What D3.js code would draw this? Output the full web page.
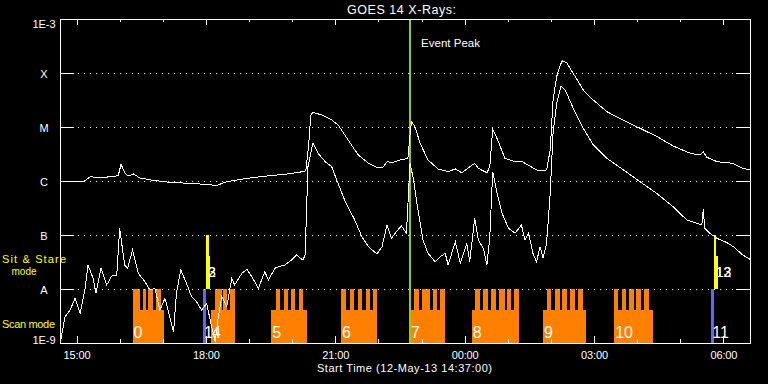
<!DOCTYPE html>
<html lang="en">
<head>
<meta charset="UTF-8">
<title>GOES 14 X-Rays</title>
<script src="https://d3js.org/d3.v7.min.js"></script>
<style>
    html, body { margin: 0; padding: 0; background: #000; }
    svg { display: block; color: white; }
    text { font-family: 'Liberation Sans', Arial, sans-serif; fill: white; }
    .axis text { font-size: 11px; }
    .mode { fill: #ffff00; font-size: 11px; }
</style>
</head>
<body>
<script>
    const width = 768;
    const height = 384;

    // time axis: minutes after 12-May-13 14:37:00 UT
    const spanMinutes = 960;
    const hourTicks = [23, 83, 143, 203, 263, 323, 383, 443, 503, 563, 623, 683, 743, 803, 863, 923];
    const hourLabels = ['15:00', '', '', '18:00', '', '', '21:00', '', '', '00:00', '', '', '03:00', '', '', '06:00'];

    const fluxTicks = [1e-9, 1e-8, 1e-7, 1e-6, 1e-5, 1e-4, 1e-3];
    const fluxLabels = ['1E-9', 'A', 'B', 'C', 'M', 'X', '1E-3'];

    // GOES 1-8 A channel [minute, W/m2]
    const longChannel = [
        [0, 9.6e-7], [32, 9.6e-7], [42, 1.2e-6], [56, 1.15e-6], [70, 1.2e-6], [81, 1.25e-6],
        [85, 2.04e-6], [90, 1.41e-6], [95, 1.24e-6], [102, 1.35e-6], [111, 1.14e-6], [129, 1.03e-6],
        [157, 9.3e-7], [181, 9.1e-7], [218, 8.3e-7], [232, 9.7e-7], [260, 1.12e-6], [288, 1.24e-6],
        [316, 1.35e-6], [338, 1.49e-6], [342, 1.56e-6], [346, 4.64e-6], [349, 1.67e-5], [352, 1.87e-5],
        [364, 1.67e-5], [378, 1.35e-5], [387, 1.09e-5], [401, 5.74e-6], [415, 3.03e-6], [429, 2.15e-6],
        [442, 1.76e-6], [449, 1.76e-6], [455, 2.28e-6], [462, 2.18e-6], [476, 2.52e-6], [484, 2.59e-6],
        [487, 7.11e-6], [489, 1.25e-5], [494, 1.01e-5], [501, 4.99e-6], [512, 2.45e-6], [526, 1.67e-6],
        [540, 1.49e-6], [550, 1.67e-6], [559, 1.42e-6], [577, 2.13e-6], [582, 1.72e-6], [594, 1.42e-6],
        [598, 1.84e-6], [602, 9.07e-6], [609, 5.74e-6], [619, 2.63e-6], [633, 2.28e-6], [643, 2.28e-6],
        [651, 1.98e-6], [665, 1.55e-6], [677, 1.6e-6], [682, 3.75e-6], [686, 3.16e-5], [691, 8.54e-5],
        [696, 1.41e-4], [699, 1.69e-4], [705, 1.55e-4], [714, 9.87e-5], [728, 4.84e-5], [742, 3.16e-5],
        [761, 1.92e-5], [783, 1.35e-5], [807, 9.46e-6], [831, 6.61e-6], [853, 4.45e-6], [877, 3.26e-6],
        [890, 3.03e-6], [895, 3.49e-6], [900, 2.75e-6], [914, 2.28e-6], [936, 2.13e-6], [950, 1.72e-6],
        [960, 1.6e-6]
    ];

    // GOES 0.5-4 A channel [minute, W/m2]
    const shortChannel = [
        [1, 1.09e-9], [2, 1.31e-9], [7, 3.07e-9], [14, 4.08e-9], [21, 6.73e-9], [28, 3.55e-9],
        [35, 1.03e-8], [39, 2.78e-8], [46, 1.58e-8], [50, 8.3e-9], [57, 2.42e-8], [65, 1.19e-8],
        [72, 1.74e-8], [79, 1.82e-8], [83, 1.33e-7], [90, 2.78e-8], [94, 2.42e-8], [101, 5.27e-8],
        [109, 1.95e-8], [118, 1.37e-8], [125, 9.6e-9], [132, 1.03e-8], [139, 4.08e-9], [146, 6.73e-9],
        [158, 1.62e-9], [162, 8.3e-9], [168, 2.25e-8], [176, 1.28e-8], [183, 7.2e-9], [190, 5.82e-9],
        [197, 4.08e-9], [204, 5.44e-9], [211, 2.0e-9], [216, 1.06e-9], [220, 2.87e-9], [225, 7.2e-9],
        [232, 4.7e-9], [239, 1.58e-8], [243, 1.19e-8], [253, 1.95e-8], [260, 2.32e-8], [267, 1.69e-8],
        [276, 1.03e-8], [285, 2.09e-8], [290, 1.47e-8], [299, 2.42e-8], [304, 2.59e-8], [313, 2.78e-8],
        [322, 3.44e-8], [329, 4.26e-8], [338, 3.44e-8], [341, 4.26e-8], [345, 1.84e-6], [352, 5.12e-6],
        [359, 3.26e-6], [369, 2.28e-6], [378, 1.84e-6], [385, 1.04e-6], [396, 4.45e-7], [410, 1.9e-7],
        [420, 9.3e-8], [429, 6.07e-8], [441, 4.45e-8], [448, 6.07e-8], [455, 1.53e-7], [461, 8.69e-8],
        [468, 1.15e-7], [475, 1.47e-7], [482, 1.08e-7], [487, 2.15e-6], [492, 1.04e-6], [498, 2.9e-7],
        [505, 8.08e-8], [512, 4.58e-8], [522, 3.2e-8], [529, 3.96e-8], [536, 4.58e-8], [540, 2.78e-8],
        [550, 7.51e-8], [557, 2.99e-8], [566, 7.02e-8], [570, 3.2e-8], [577, 2.04e-7], [582, 8.08e-8],
        [589, 5.67e-8], [594, 2.78e-8], [598, 9.3e-8], [602, 1.49e-6], [608, 5.92e-7], [615, 2.52e-7],
        [624, 1.33e-7], [633, 1.08e-7], [642, 1.53e-7], [647, 8.08e-8], [652, 1.08e-7], [658, 4.58e-8],
        [663, 3.2e-8], [668, 6.07e-8], [672, 3.7e-8], [677, 7.02e-8], [682, 5.92e-7], [686, 7.64e-6],
        [691, 2.75e-5], [697, 5.74e-5], [703, 4.84e-5], [714, 2.22e-5], [728, 9.46e-6], [742, 4.64e-6],
        [761, 2.63e-6], [784, 1.6e-6], [807, 9.7e-7], [830, 5.92e-7], [853, 3.34e-7], [872, 1.9e-7],
        [886, 1.65e-7], [893, 1.53e-7], [895, 2.99e-7], [897, 1.33e-7], [904, 1.08e-7], [914, 8.69e-8],
        [928, 7.2e-8], [937, 6.07e-8], [950, 4.26e-8], [960, 3.55e-8]
    ];

    const eventPeak = 487;

    // raster scans and their exposure steps, in minutes
    const scanBlocks = [
        {id: '0', start: 101, end: 144, steps: [[101, 111], [115, 120], [123, 130], [134, 140]]},
        {id: '4', start: 210, end: 243, steps: [[216, 225], [227, 233], [236, 243]]},
        {id: '5', start: 294, end: 343, steps: [[300, 306], [311, 317], [321, 327], [332, 338]]},
        {id: '6', start: 391, end: 441, steps: [[391, 398], [404, 409], [414, 420], [426, 431], [435, 441]]},
        {id: '7', start: 487, end: 536, steps: [[493, 500], [504, 515], [519, 525], [529, 536]]},
        {id: '8', start: 573, end: 638, steps: [[578, 585], [589, 596], [599, 607], [611, 619], [622, 628], [631, 638]]},
        {id: '9', start: 672, end: 732, steps: [[677, 683], [689, 695], [699, 705], [710, 717], [721, 727]]},
        {id: '10', start: 771, end: 825, steps: [[771, 777], [782, 788], [792, 798], [802, 808], [813, 820]]}
    ];
    const scanSingles = [
        {id: '1', start: 199, end: 203},
        {id: '11', start: 906, end: 909.5}
    ];
    const stareEvents = [
        {id: '3', start: 203, end: 208.5, top: 4.1e-8},
        {id: '2', start: 203, end: 207, top: 1e-7},
        {id: '13', start: 909.5, end: 915, top: 4.1e-8},
        {id: '12', start: 909.5, end: 913, top: 1e-7}
    ];

    const svg = d3.select('body').append('svg').attr('width', width).attr('height', height);

    const x = d3.scaleLinear().domain([0, spanMinutes]).range([60, 750]);
    const y = d3.scaleLog().domain([1e-9, 1e-3]).range([343, 19]);

    const scanTop = 1e-8, scanBody = 4.1e-9, scanBottom = 1e-9;

    svg.append('clipPath').attr('id', 'plot')
        .append('rect').attr('x', 60).attr('y', 19).attr('width', 691).attr('height', 325);

    // scan blocks
    const scans = svg.append('g').attr('clip-path', 'url(#plot)').attr('shape-rendering', 'crispEdges');
    scans.selectAll('rect.body').data(scanBlocks).join('rect').attr('class', 'body')
        .attr('x', d => x(d.start)).attr('width', d => x(d.end) - x(d.start))
        .attr('y', y(scanBody)).attr('height', y(scanBottom) - y(scanBody) + 1)
        .attr('fill', '#ff8000');
    scans.selectAll('rect.step').data(scanBlocks.flatMap(b => b.steps)).join('rect').attr('class', 'step')
        .attr('x', d => x(d[0])).attr('width', d => x(d[1]) - x(d[0]))
        .attr('y', y(scanTop)).attr('height', y(scanBody) - y(scanTop) + 1)
        .attr('fill', '#ff8000');
    scans.selectAll('rect.single').data(scanSingles).join('rect').attr('class', 'single')
        .attr('x', d => x(d.start)).attr('width', d => x(d.end) - x(d.start))
        .attr('y', y(scanTop)).attr('height', y(scanBottom) - y(scanTop))
        .attr('fill', '#6464ff');
    scans.selectAll('rect.stare').data(stareEvents).join('rect').attr('class', 'stare')
        .attr('x', d => x(d.start)).attr('width', d => x(d.end) - x(d.start))
        .attr('y', d => y(d.top)).attr('height', d => y(scanTop) - y(d.top))
        .attr('fill', '#ffff00');

    // event peak
    svg.append('line')
        .attr('x1', x(eventPeak)).attr('x2', x(eventPeak))
        .attr('y1', y(1e-3)).attr('y2', y(1e-9) + 1)
        .attr('stroke', '#99cc00').attr('stroke-width', 2)
        .attr('shape-rendering', 'crispEdges');

    // grid
    svg.append('g').selectAll('line').data(fluxTicks.slice(1, -1)).join('line')
        .attr('x1', 78).attr('x2', 736)
        .attr('y1', d => y(d) + 0.5).attr('y2', d => y(d) + 0.5)
        .attr('stroke', 'white').attr('stroke-dasharray', '1 5')
        .attr('shape-rendering', 'crispEdges');

    // flux curves
    const line = d3.line().x(d => x(d[0])).y(d => y(d[1]));
    svg.append('g').attr('clip-path', 'url(#plot)')
        .selectAll('path').data([longChannel, shortChannel]).join('path')
        .attr('d', line)
        .attr('fill', 'none').attr('stroke', 'white').attr('stroke-width', 1)
        .attr('shape-rendering', 'crispEdges');

    // frame and axes
    svg.append('rect').attr('x', 60.5).attr('y', 19.5).attr('width', 690).attr('height', 324)
        .attr('fill', 'none').attr('stroke', 'white').attr('shape-rendering', 'crispEdges');

    const major = hourTicks.filter((d, i) => hourLabels[i] !== '');
    const minor = hourTicks.filter((d, i) => hourLabels[i] === '');
    const labelOf = d => hourLabels[hourTicks.indexOf(d)];

    function axisGroup(axis, tx, ty) {
        const g = svg.append('g').attr('class', 'axis')
            .attr('transform', `translate(${tx},${ty})`).call(axis);
        g.select('.domain').remove();
        g.attr('font-family', null).attr('font-size', null);
        g.selectAll('line').attr('shape-rendering', 'crispEdges');
        return g;
    }

    axisGroup(d3.axisBottom(x).tickValues(major).tickSize(-7).tickPadding(8).tickFormat(labelOf), 0, 343)
        .selectAll('text').attr('textLength', 27);
    axisGroup(d3.axisBottom(x).tickValues(minor).tickSize(-4).tickFormat(''), 0, 343);
    axisGroup(d3.axisTop(x).tickValues(major).tickSize(-6).tickFormat(''), 0, 19);
    axisGroup(d3.axisTop(x).tickValues(minor).tickSize(-3).tickFormat(''), 0, 19);
    axisGroup(d3.axisRight(y).tickValues(fluxTicks).tickSize(-14).tickFormat(''), 750, 0);

    const yAxis = axisGroup(d3.axisLeft(y).tickValues(fluxTicks).tickSize(-14)
        .tickFormat((d, i) => fluxLabels[i]), 60, 0);
    yAxis.selectAll('text')
        .attr('x', -16).attr('text-anchor', 'middle')
        .attr('dy', (d, i) => i === 0 ? '0em' : (i === fluxTicks.length - 1 ? '0.73em' : '0.39em'));

    // event numbers
    const labels = svg.append('g');
    labels.selectAll('text.num').data(scanBlocks.concat(scanSingles)).join('text').attr('class', 'num')
        .attr('x', d => x(d.start) + 1).attr('y', y(scanBottom) - 5)
        .style('font-size', '16px').text(d => d.id);
    labels.selectAll('text.stare').data(stareEvents).join('text').attr('class', 'stare')
        .attr('x', d => x(d.start) + 2).attr('y', 277)
        .style('font-size', '14px').text(d => d.id);

    // titles
    svg.append('text').attr('x', 347).attr('y', 14)
        .attr('textLength', 109).style('font-size', '12.5px').text('GOES 14 X-Rays:');
    svg.append('text').attr('x', x(eventPeak) + 11).attr('y', 47)
        .attr('textLength', 59).style('font-size', '11.5px').text('Event Peak');
    svg.append('text').attr('x', 317).attr('y', 371.5)
        .attr('textLength', 175).style('font-size', '11px').text('Start Time (12-May-13 14:37:00)');

    svg.append('text').attr('class', 'mode').attr('x', 2).attr('y', 263)
        .attr('textLength', 64).text('Sit & Stare');
    svg.append('text').attr('class', 'mode').attr('x', 11.5).attr('y', 274.5)
        .style('font-size', '10px').text('mode');
    svg.append('text').attr('class', 'mode').attr('x', 2).attr('y', 327.5)
        .attr('textLength', 53).text('Scan mode');
</script>
</body>
</html>
